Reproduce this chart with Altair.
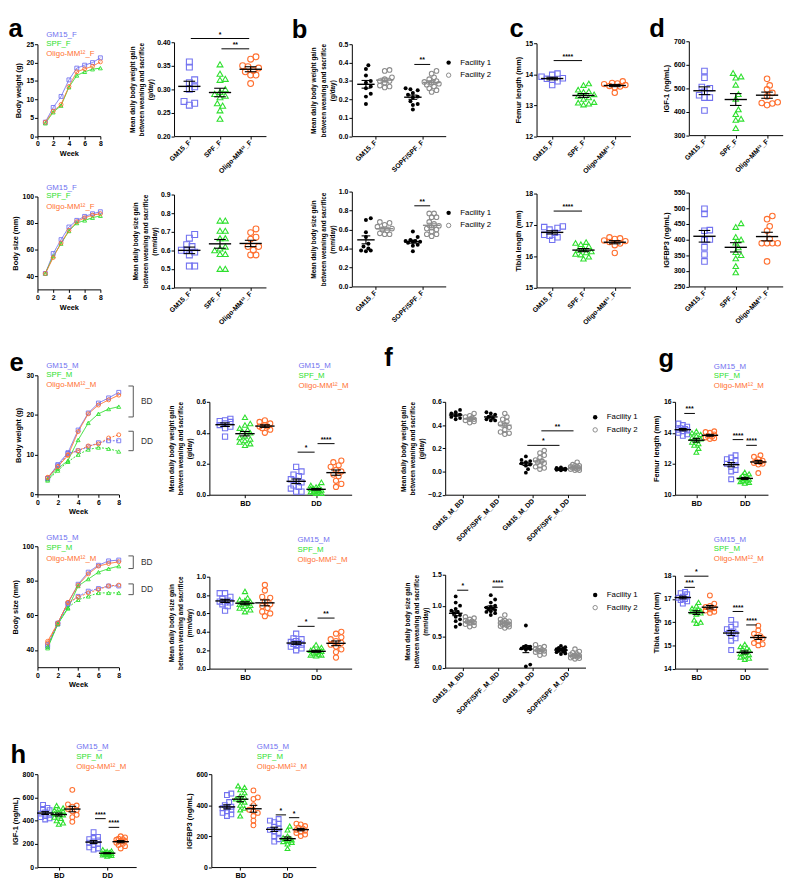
import math
import altair as alt
import pandas as pd

# ======================= DATA =======================
weeks = [1, 2, 3, 4, 5, 6, 7, 8]

# a: females, body weight / size curves
a_weight_GM15 = [3.8, 7.8, 10.8, 15.3, 18.5, 19.3, 20.0, 21.3]
a_weight_SPF = [3.5, 6.5, 8.3, 13.3, 16.5, 17.5, 18.2, 18.5]
a_weight_Oligo = [3.8, 6.8, 8.6, 13.5, 17.5, 18.3, 19.0, 20.2]
a_size_GM15 = [42, 57, 67.5, 77, 82, 85, 87, 88.5]
a_size_SPF = [42, 55, 64.5, 74, 80, 82, 84, 85.5]
a_size_Oligo = [42, 54, 65, 74.5, 81, 84, 86, 87]

# a: females, daily gains
a_wgain_GM15 = [0.358, 0.347, 0.320, 0.314, 0.305, 0.300, 0.274, 0.266, 0.270]
a_wgain_SPF = [0.353, 0.333, 0.322, 0.320, 0.294, 0.290, 0.286, 0.283, 0.270, 0.265, 0.255, 0.237, 0.300]
a_wgain_Oligo = [0.369, 0.364, 0.350, 0.348, 0.345, 0.340, 0.337, 0.330, 0.330, 0.312]
a_sgain_GM15 = [0.685, 0.665, 0.63, 0.62, 0.60, 0.60, 0.59, 0.575, 0.515, 0.515]
a_sgain_SPF = [0.76, 0.76, 0.705, 0.705, 0.665, 0.665, 0.62, 0.61, 0.60, 0.58, 0.58, 0.50, 0.50]
a_sgain_Oligo = [0.715, 0.695, 0.67, 0.66, 0.62, 0.62, 0.60, 0.575, 0.575]

# b: facilities
b_wgain_GM15_F1 = [0.385, 0.365, 0.33, 0.30, 0.29, 0.27, 0.26, 0.23, 0.215, 0.175]
b_wgain_GM15_F2 = [0.36, 0.355, 0.32, 0.31, 0.30, 0.30, 0.29, 0.275, 0.27, 0.265]
b_wgain_SPF_F1 = [0.26, 0.255, 0.25, 0.235, 0.225, 0.215, 0.21, 0.19, 0.175, 0.17, 0.145]
b_wgain_SPF_F2 = [0.355, 0.34, 0.32, 0.31, 0.30, 0.295, 0.29, 0.285, 0.28, 0.27, 0.26, 0.25, 0.24]
b_sgain_GM15_F1 = [0.72, 0.70, 0.57, 0.52, 0.45, 0.42, 0.40, 0.38, 0.38, 0.37]
b_sgain_GM15_F2 = [0.68, 0.67, 0.65, 0.63, 0.61, 0.60, 0.59, 0.56, 0.55, 0.55]
b_sgain_SPF_F1 = [0.58, 0.52, 0.49, 0.48, 0.48, 0.47, 0.47, 0.46, 0.44, 0.43, 0.37]
b_sgain_SPF_F2 = [0.77, 0.77, 0.73, 0.73, 0.68, 0.66, 0.64, 0.62, 0.61, 0.60, 0.58, 0.55, 0.55, 0.53]

# c: bone length (females)
c_femur_GM15 = [14.02, 13.98, 13.92, 13.87, 13.85, 13.82, 13.77, 13.65]
c_femur_SPF = [13.70, 13.65, 13.50, 13.45, 13.43, 13.35, 13.30, 13.25, 13.20, 13.10, 13.08, 13.05, 13.02]
c_femur_Oligo = [13.77, 13.72, 13.70, 13.68, 13.65, 13.62, 13.60, 13.57, 13.40]
c_tibia_GM15 = [16.95, 16.93, 16.90, 16.85, 16.75, 16.68, 16.65, 16.60, 16.52]
c_tibia_SPF = [16.45, 16.42, 16.38, 16.32, 16.25, 16.20, 16.15, 16.12, 16.07, 16.05, 15.98, 15.92]
c_tibia_Oligo = [16.60, 16.57, 16.55, 16.50, 16.48, 16.45, 16.40, 16.35, 16.10]

# d: IGF-1 / IGFBP3 (females)
d_igf_GM15 = [573, 545, 505, 500, 485, 470, 460, 460, 405]
d_igf_SPF = [565, 550, 545, 515, 475, 455, 410, 390, 370, 365, 330]
d_igf_Oligo = [540, 512, 495, 480, 465, 440, 437, 435, 428]
d_bp3_GM15 = [498, 482, 430, 428, 400, 398, 375, 352, 330]
d_bp3_SPF = [452, 440, 408, 400, 390, 375, 360, 350, 340, 315, 295]
d_bp3_Oligo = [475, 465, 442, 428, 402, 388, 388, 388, 388, 330]

# e: males, curves (BD solid, DD dotted)
e_weight_GM15_BD = [4.0, 7.5, 10.5, 16.2, 20.5, 23.0, 24.3, 25.7]
e_weight_SPF_BD = [3.8, 6.5, 8.5, 13.7, 18.0, 20.3, 21.5, 22.1]
e_weight_Oligo_BD = [4.3, 7.0, 9.8, 15.8, 20.3, 22.5, 23.8, 25.0]
e_weight_GM15_DD = [4.0, 7.2, 10.3, 11.0, 12.0, 13.0, 13.5, 13.5]
e_weight_SPF_DD = [3.5, 6.0, 8.2, 10.0, 11.3, 11.8, 11.5, 10.8]
e_weight_Oligo_DD = [4.2, 7.0, 10.0, 11.0, 12.2, 12.7, 14.2, 15.0]
e_size_GM15_BD = [42, 55.5, 67, 78, 85, 89, 91.5, 92]
e_size_SPF_BD = [41, 55, 64, 77, 81, 85, 87, 88.5]
e_size_Oligo_BD = [45, 55.5, 67.5, 77.5, 84, 88.5, 90, 91]
e_size_GM15_DD = [43, 55, 66.5, 71, 74, 75.5, 77, 77]
e_size_SPF_DD = [42, 55, 64.5, 69, 71, 73, 73, 73]
e_size_Oligo_DD = [44, 55.5, 67.5, 70.5, 73, 75, 77, 77.5]

# e: males, daily gains
e_wgain_BD_GM15 = [0.49, 0.48, 0.475, 0.47, 0.46, 0.45, 0.44, 0.43, 0.375]
e_wgain_BD_SPF = [0.50, 0.46, 0.45, 0.43, 0.42, 0.41, 0.40, 0.38, 0.37, 0.36, 0.35, 0.34, 0.33, 0.32]
e_wgain_BD_Oligo = [0.48, 0.47, 0.46, 0.45, 0.44, 0.44, 0.43, 0.42, 0.40]
e_wgain_DD_GM15 = [0.18, 0.15, 0.13, 0.12, 0.10, 0.09, 0.08, 0.06, 0.05, 0.04, 0.02, 0.02]
e_wgain_DD_SPF = [0.08, 0.06, 0.05, 0.05, 0.04, 0.04, 0.03, 0.03, 0.03, 0.02, 0.02, 0.02, 0.01, 0.01]
e_wgain_DD_Oligo = [0.22, 0.21, 0.19, 0.18, 0.16, 0.15, 0.13, 0.12, 0.09, 0.07, 0.05]
e_sgain_BD_GM15 = [0.82, 0.82, 0.78, 0.76, 0.74, 0.73, 0.72, 0.72, 0.70, 0.68, 0.63]
e_sgain_BD_SPF = [0.84, 0.77, 0.75, 0.74, 0.73, 0.72, 0.71, 0.70, 0.69, 0.68, 0.66, 0.64, 0.62]
e_sgain_BD_Oligo = [0.91, 0.85, 0.78, 0.77, 0.73, 0.70, 0.68, 0.66, 0.62, 0.60, 0.57]
e_sgain_DD_GM15 = [0.38, 0.33, 0.32, 0.30, 0.29, 0.28, 0.27, 0.26, 0.25, 0.24, 0.22, 0.20]
e_sgain_DD_SPF = [0.26, 0.23, 0.22, 0.21, 0.20, 0.19, 0.18, 0.17, 0.16, 0.15, 0.15, 0.14]
e_sgain_DD_Oligo = [0.40, 0.38, 0.34, 0.32, 0.30, 0.28, 0.26, 0.24, 0.21, 0.18, 0.12]

# f: males, facilities
f_wgain_GM15BD_F1 = [0.53, 0.51, 0.50, 0.49, 0.48, 0.47, 0.46, 0.45]
f_wgain_GM15BD_F2 = [0.50, 0.48, 0.47, 0.46, 0.45, 0.45, 0.44, 0.43, 0.42]
f_wgain_SPFBD_F1 = [0.51, 0.50, 0.49, 0.47, 0.46, 0.45, 0.44, 0.44]
f_wgain_SPFBD_F2 = [0.50, 0.47, 0.45, 0.43, 0.41, 0.40, 0.38, 0.36, 0.34, 0.33, 0.32]
f_wgain_GM15DD_F1 = [0.13, 0.10, 0.09, 0.08, 0.07, 0.06, 0.05, 0.02, -0.01]
f_wgain_GM15DD_F2 = [0.18, 0.16, 0.14, 0.12, 0.10, 0.09, 0.08, 0.07, 0.05, 0.04, 0.03, 0.02]
f_wgain_SPFDD_F1 = [0.035, 0.03, 0.025, 0.02, 0.02, 0.02, 0.015, 0.015, 0.01]
f_wgain_SPFDD_F2 = [0.08, 0.06, 0.05, 0.05, 0.04, 0.04, 0.03, 0.03, 0.03, 0.02, 0.02, 0.01, 0.01]
f_sgain_GM15BD_F1 = [1.15, 1.05, 1.00, 0.95, 0.92, 0.90, 0.88, 0.85, 0.82, 0.78, 0.75, 0.70, 0.66]
f_sgain_GM15BD_F2 = [0.82, 0.80, 0.78, 0.76, 0.75, 0.74, 0.73, 0.72, 0.70, 0.68, 0.66]
f_sgain_SPFBD_F1 = [1.17, 1.10, 1.05, 1.00, 0.98, 0.97, 0.95, 0.94, 0.93, 0.91, 0.90, 0.88, 0.85]
f_sgain_SPFBD_F2 = [0.85, 0.78, 0.76, 0.75, 0.74, 0.73, 0.72, 0.71, 0.70, 0.69, 0.68, 0.67, 0.66, 0.64]
f_sgain_GM15DD_F1 = [0.68, 0.35, 0.34, 0.33, 0.32, 0.31, 0.30, 0.29, 0.05, 0.02]
f_sgain_GM15DD_F2 = [0.37, 0.34, 0.32, 0.30, 0.29, 0.28, 0.27, 0.26, 0.25, 0.22, 0.20]
f_sgain_SPFDD_F1 = [0.35, 0.33, 0.32, 0.31, 0.30, 0.29, 0.28, 0.27, 0.26, 0.25, 0.23, 0.22]
f_sgain_SPFDD_F2 = [0.30, 0.26, 0.24, 0.22, 0.21, 0.20, 0.19, 0.18, 0.17, 0.16, 0.15, 0.14]

# g: males, bone length
g_femur_BD_GM15 = [14.6, 14.5, 14.4, 14.3, 14.25, 14.2, 14.15, 14.1, 14.0, 13.9, 13.8]
g_femur_BD_SPF = [14.1, 14.0, 13.9, 13.8, 13.7, 13.6, 13.5, 13.4, 13.3, 13.2, 13.0, 12.75]
g_femur_BD_Oligo = [14.1, 14.05, 14.0, 13.9, 13.8, 13.75, 13.7, 13.65, 13.6]
g_femur_DD_GM15 = [12.55, 12.4, 12.3, 12.2, 12.1, 12.0, 11.9, 11.8, 11.6, 11.5, 11.0]
g_femur_DD_SPF = [11.45, 11.35, 11.25, 11.2, 11.1, 11.05, 11.0, 10.95, 10.9, 10.85, 10.8, 10.75]
g_femur_DD_Oligo = [12.55, 12.45, 12.3, 12.2, 12.15, 12.1, 12.05, 12.0, 11.95, 11.4]
g_tibia_BD_GM15 = [17.3, 17.25, 17.2, 17.1, 17.05, 17.0, 16.95, 16.9, 16.8]
g_tibia_BD_SPF = [16.85, 16.7, 16.6, 16.55, 16.5, 16.5, 16.45, 16.4, 16.35, 16.1, 16.0, 15.95]
g_tibia_BD_Oligo = [17.15, 16.8, 16.7, 16.65, 16.6, 16.55, 16.5, 16.45, 16.4]
g_tibia_DD_GM15 = [16.1, 15.9, 15.8, 15.7, 15.6, 15.55, 15.5, 15.4, 15.3, 15.2, 14.8]
g_tibia_DD_SPF = [15.05, 14.95, 14.9, 14.85, 14.8, 14.7, 14.65, 14.6, 14.55, 14.5, 14.45, 14.4]
g_tibia_DD_Oligo = [15.85, 15.65, 15.5, 15.4, 15.35, 15.3, 15.2, 15.1, 15.05, 15.0]

# h: males, IGF-1 / IGFBP3
h_igf_BD_GM15 = [535, 510, 500, 490, 470, 460, 450, 440, 430, 420, 410]
h_igf_BD_SPF = [530, 510, 500, 490, 480, 470, 460, 450, 440, 430, 420, 400, 380, 370]
h_igf_BD_Oligo = [665, 540, 530, 520, 500, 490, 480, 450, 430, 390]
h_igf_DD_GM15 = [300, 260, 250, 240, 230, 220, 210, 200, 190, 170, 160, 150]
h_igf_DD_SPF = [150, 140, 135, 130, 125, 120, 118, 115, 110, 108, 105, 100, 95]
h_igf_DD_Oligo = [265, 255, 245, 240, 235, 225, 220, 210, 200, 190, 180, 160]
h_bp3_BD_GM15 = [475, 465, 420, 400, 390, 385, 380, 370, 360, 350, 340, 330]
h_bp3_BD_SPF = [525, 515, 500, 480, 460, 450, 440, 430, 420, 400, 380, 370, 330]
h_bp3_BD_Oligo = [495, 450, 440, 400, 370, 360, 350, 330, 300, 270]
h_bp3_DD_GM15 = [310, 300, 290, 280, 260, 250, 240, 230, 220, 200, 180, 165]
h_bp3_DD_SPF = [265, 240, 200, 190, 185, 180, 175, 170, 165, 160, 150, 120]
h_bp3_DD_Oligo = [280, 275, 265, 255, 250, 240, 235, 230, 220, 210, 200]

# significance annotations: (cat1, series1, cat2, series2, y, label)
a_wgain_sig = [(0, "GM15", 2, "Oligo", 0.408, "*"), (1, "SPF", 2, "Oligo", 0.386, "**")]
b_wgain_sig = [(1, "F1", 1, "F2", 0.39, "**")]
b_sgain_sig = [(1, "F1", 1, "F2", 0.85, "**")]
c_femur_sig = [(0, "GM15", 1, "SPF", 14.44, "****")]
c_tibia_sig = [(0, "GM15", 1, "SPF", 17.44, "****")]
e_wgain_sig = [(1, "GM15", 1, "SPF", 0.275, "*"), (1, "SPF", 1, "Oligo", 0.33, "****")]
e_sgain_sig = [(1, "GM15", 1, "SPF", 0.46, "*"), (1, "SPF", 1, "Oligo", 0.55, "**")]
f_wgain_sig = [(2, "F1", 3, "F1", 0.225, "*"), (2, "F2", 3, "F2", 0.35, "**")]
f_sgain_sig = [(0, "F1", 0, "F2", 1.25, "*"), (1, "F1", 1, "F2", 1.30, "****")]
g_femur_sig = [(0, "GM15", 0, "SPF", 15.25, "***"), (1, "GM15", 1, "SPF", 13.56, "****"),
               (1, "SPF", 1, "Oligo", 13.19, "****")]
g_tibia_sig = [(0, "GM15", 0, "Oligo", 17.98, "*"), (0, "GM15", 0, "SPF", 17.5, "***"),
               (1, "GM15", 1, "SPF", 16.46, "****"), (1, "SPF", 1, "Oligo", 15.88, "****")]
h_igf_sig = [(1, "GM15", 1, "SPF", 417, "****"), (1, "SPF", 1, "Oligo", 342, "****")]
h_bp3_sig = [(1, "GM15", 1, "SPF", 337, "*"), (1, "SPF", 1, "Oligo", 319, "*")]

# BD / DD brackets on the growth curves (y from, y to, label)
e_weight_brackets = [(27.3, 19.5, "BD"), (15.9, 11.0, "DD")]
e_size_brackets = [(94.4, 87.1, "BD"), (78.2, 72.0, "DD")]

# tick labels / legend texts
labels_F = ["GM15_F", "SPF_F", "Oligo-MM¹²_F"]
labels_fac_F = ["GM15_F", "SOPF/SPF_F"]
labels_fac_M = ["GM15_M_BD", "SOPF/SPF_M_BD", "GM15_M_DD", "SOPF/SPF_M_DD"]
labels_diet = ["BD", "DD"]
legend_F = ["GM15_F", "SPF_F", "Oligo-MM¹²_F"]
legend_M = ["GM15_M", "SPF_M", "Oligo-MM¹²_M"]
legend_fac = ["Facility 1", "Facility 2"]

# ======================= STYLE / LAYOUT =======================
FONT = "Liberation Sans"
S = 0.985
COL = {"GM15": "#7272F0", "SPF": "#2EDF2E", "Oligo": "#FF7030", "F1": "#000000", "F2": "#8C8C8C"}
SHP = {"GM15": "square", "SPF": "triangle-up", "Oligo": "circle", "F1": "circle", "F2": "circle"}
FILL = {"GM15": False, "SPF": False, "Oligo": False, "F1": True, "F2": False}
STAT = {"GM15": "black", "SPF": "black", "Oligo": "black", "F1": "black", "F2": "#8C8C8C"}
SERIES = ["GM15", "SPF", "Oligo", "F1", "F2"]
SH3 = {"GM15": 0.0, "SPF": 0.0, "Oligo": 0.0}
SHF = {"F1": -0.2, "F2": 0.2}
SHG = {"GM15": -0.28, "SPF": 0.0, "Oligo": 0.28}
ONE = pd.DataFrame({"k": [0]})
TRIO = ["GM15", "SPF", "Oligo"]


def cscale():
    return alt.Scale(domain=SERIES, range=[COL[s] for s in SERIES])


def sscale():
    return alt.Scale(domain=SERIES, range=[SHP[s] for s in SERIES])


class Box:
    def __init__(self, rect, cut):
        x0, y0, x1, y1 = rect
        X0, Y0, X1, Y1 = cut
        self.x0, self.y0 = x0, y0
        self.W = (x1 - x0) * S
        self.H = (y1 - y0) * S
        self.L = (x0 - X0) * S
        self.T = (y0 - Y0) * S
        self.R = (X1 - x1) * S
        self.B = (Y1 - y1) * S

    def px(self, ax, ay):
        return (ax - self.x0) * S, (ay - self.y0) * S


def swarm(vals, ypx, xpx, d, maxw):
    """deterministic beeswarm offsets (in x units), spread limited to +-maxw px"""
    order = sorted(range(len(vals)), key=lambda i: vals[i])
    cands = [0.0]
    j = 1
    while j * d * 0.5 <= maxw + 1e-9:
        cands += [j * d * 0.5, -j * d * 0.5]
        j += 1
    placed, out = [], [0.0] * len(vals)
    for i in order:
        y = vals[i] * ypx
        chosen, best, bestd = None, 0.0, -1.0
        for c in cands:
            md = min([math.hypot(c - px, y - py) for px, py in placed] or [1e9])
            if md >= 0.9 * d:
                chosen = c
                break
            if md > bestd:
                best, bestd = c, md
        if chosen is None:
            chosen = best
        placed.append((chosen, y))
        out[i] = chosen / xpx
    return out


def anchors(b):
    return [
        alt.Chart(ONE).mark_rule(color="white", strokeWidth=1).encode(
            x=alt.value(-b.L + 0.5), x2=alt.value(-b.L + 1.5), y=alt.value(-b.T + 0.5)),
        alt.Chart(ONE).mark_rule(color="white", strokeWidth=1).encode(
            x=alt.value(b.W + b.R - 1.5), x2=alt.value(b.W + b.R - 0.5), y=alt.value(b.H + b.B - 0.5)),
    ]


def spacer():
    return alt.Chart(ONE).mark_rule(color="white", strokeWidth=1).encode(
        x=alt.value(0), x2=alt.value(1), y=alt.value(0.5)).properties(width=1, height=1)


def column(*charts):
    return alt.vconcat(spacer(), *charts, spacing=0)


def decor_layers(b, items):
    out = []
    for it in items:
        if it[0] == "t":
            _, s, ax, ay, color, size, weight, baseline = it
            dx, dy = b.px(ax, ay)
            out.append(alt.Chart(ONE).mark_text(text=s, color=color, fontSize=size, fontWeight=weight,
                                                align="left", baseline=baseline, font=FONT).encode(
                x=alt.value(dx), y=alt.value(dy)))
        else:
            _, ax, ay, filled, color = it
            dx, dy = b.px(ax, ay)
            out.append(alt.Chart(ONE).mark_point(shape="circle", filled=filled, color=color, size=20,
                                                 strokeWidth=1, opacity=1).encode(
                x=alt.value(dx), y=alt.value(dy)))
    return out


def letter(s, ax, ay):
    return ("t", s, ax, ay, "black", 26, "bold", "alphabetic")


def trio_legend(names, ax, ys):
    return [("t", n, ax, y, COL[k], 8, "normal", "middle") for n, k, y in zip(names, TRIO, ys)]


def fac_legend(ax, ys):
    return [("d", ax - 12, ys[0], True, "black"), ("d", ax - 12, ys[1], False, "#8C8C8C"),
            ("t", legend_fac[0], ax, ys[0], "black", 8, "normal", "middle"),
            ("t", legend_fac[1], ax, ys[1], "black", 8, "normal", "middle")]


def scatter_panel(rect, cut, xdom, ylim, yticks, yfmt, ytitle, labels, shifts, groups, sigs,
                  mean_w, cap_w, msize, dpx=5.5, spread=10, angle=-45, tsize=6.5, decor=()):
    b = Box(rect, cut)
    xpx = b.W / (xdom[1] - xdom[0])
    ypx = b.H / (ylim[1] - ylim[0])
    rows, st = [], []
    for cat, ser, vals in groups:
        c = cat + shifts[ser]
        offs = swarm(vals, ypx, xpx, dpx * S, spread * S)
        for v, o in zip(vals, offs):
            rows.append({"x": c + o, "v": v, "series": ser, "filled": FILL[ser]})
        n = len(vals)
        m = sum(vals) / n
        se = math.sqrt(sum((v - m) ** 2 for v in vals) / (n - 1)) / math.sqrt(n)
        hw = mean_w * S / 2 / xpx
        hc = cap_w * S / 2 / xpx
        st.append(dict(x=c, m=m, lo=m - se, hi=m + se, xl=c - hw, xr=c + hw, cl=c - hc, cr=c + hc,
                       col=STAT[ser]))
    pts = pd.DataFrame(rows)
    stats = pd.DataFrame(st)
    xs = alt.Scale(domain=list(xdom), nice=False, zero=False)
    ys = alt.Scale(domain=list(ylim), nice=False, zero=False)
    expr = "[" + ",".join("'%s'" % l for l in labels) + "][round(datum.value)]"
    if angle:
        xaxis = alt.Axis(values=list(range(len(labels))), labelExpr=expr, title=None, labelAngle=angle,
                         labelAlign="right", labelBaseline="middle", labelPadding=2)
    else:
        xaxis = alt.Axis(values=list(range(len(labels))), labelExpr=expr, title=None, labelAngle=0,
                         labelAlign="center", labelBaseline="top", labelFontSize=7.5, labelPadding=2)
    yaxis = alt.Axis(values=yticks, format=yfmt, title=ytitle, titleFontSize=tsize, titleLineHeight=9.5)

    def X(f):
        return alt.X(f, type="quantitative", scale=xs, axis=xaxis)

    def Y(f):
        return alt.Y(f, type="quantitative", scale=ys, axis=yaxis)

    layers = []
    for filled in (False, True):
        sub = pts[pts.filled == filled].drop(columns="filled")
        if len(sub) == 0:
            continue
        layers.append(alt.Chart(sub).mark_point(filled=filled, size=msize * (0.75 if filled else 1),
                                                strokeWidth=1.1, opacity=1).encode(
            x=X("x"), y=Y("v"),
            color=alt.Color("series:N", scale=cscale(), legend=None),
            shape=alt.Shape("series:N", scale=sscale(), legend=None)))
    for col in stats.col.unique():
        sd = stats[stats.col == col]
        base = alt.Chart(sd)
        layers.append(base.mark_rule(color=col, strokeWidth=1.1).encode(x=X("x"), y=Y("lo"), y2="hi:Q"))
        layers.append(base.mark_rule(color=col, strokeWidth=1.4).encode(x=X("xl"), x2="xr:Q", y=Y("m")))
        for f in ("lo", "hi"):
            layers.append(base.mark_rule(color=col, strokeWidth=1.1).encode(x=X("cl"), x2="cr:Q", y=Y(f)))
    if sigs:
        gap = 1.5 * S / xpx
        sg = pd.DataFrame([dict(x1=c1 + shifts[s1] + gap, x2=c2 + shifts[s2] - gap, y=y,
                                xm=(c1 + shifts[s1] + c2 + shifts[s2]) / 2, t=t)
                           for c1, s1, c2, s2, y, t in sigs])
        layers.append(alt.Chart(sg).mark_rule(color="black", strokeWidth=1).encode(
            x=X("x1"), x2="x2:Q", y=Y("y")))
        layers.append(alt.Chart(sg).mark_text(fontSize=7, fontWeight="bold", baseline="bottom", dy=-1,
                                              font=FONT).encode(x=X("xm"), y=Y("y"), text="t:N"))
    layers += decor_layers(b, decor)
    layers += anchors(b)
    return alt.layer(*layers).properties(width=b.W, height=b.H)


def line_panel(rect, cut, ylim, yticks, ytitle, series, decor=(), brackets=()):
    b = Box(rect, cut)
    rows = []
    for ser, cond, vals in series:
        for w, v in zip(weeks, vals):
            rows.append(dict(week=w, v=v, series=ser, cond=cond, key=ser + cond))
    df = pd.DataFrame(rows)
    xs = alt.Scale(domain=[0, 8], nice=False, zero=False)
    ys = alt.Scale(domain=list(ylim), nice=False, zero=False)
    xaxis = alt.Axis(values=[0, 2, 4, 6, 8], format="d", title="Week")
    yaxis = alt.Axis(values=yticks, format="d", title=ytitle)

    def X(f):
        return alt.X(f, type="quantitative", scale=xs, axis=xaxis)

    def Y(f):
        return alt.Y(f, type="quantitative", scale=ys, axis=yaxis)

    color = alt.Color("series:N", scale=cscale(), legend=None)
    lines = alt.Chart(df).mark_line(strokeWidth=1).encode(
        x=X("week"), y=Y("v"), color=color,
        strokeDash=alt.StrokeDash("cond:N", scale=alt.Scale(domain=["BD", "DD"], range=[[1, 0], [2, 1.5]]),
                                  legend=None),
        detail="key:N")
    pts = alt.Chart(df).mark_point(filled=False, size=16, strokeWidth=0.9, opacity=1).encode(
        x=X("week"), y=Y("v"), color=color, shape=alt.Shape("series:N", scale=sscale(), legend=None))
    layers = [lines, pts]
    if brackets:
        bd = pd.DataFrame([dict(t=t, y1=y1, y2=y2, ym=(y1 + y2) / 2) for y1, y2, t in brackets])
        xr, xt, xx = b.W + 15 * S, b.W + 10 * S, b.W + 23 * S
        layers.append(alt.Chart(bd).mark_rule(color="#555555", strokeWidth=1).encode(
            x=alt.value(xr), y=Y("y1"), y2="y2:Q"))
        for f in ("y1", "y2"):
            layers.append(alt.Chart(bd).mark_rule(color="#555555", strokeWidth=1).encode(
                x=alt.value(xt), x2=alt.value(xr), y=Y(f)))
        layers.append(alt.Chart(bd).mark_text(fontSize=8.5, align="left", baseline="middle", font=FONT,
                                              color="#333333").encode(x=alt.value(xx), y=Y("ym"), text="t:N"))
    layers += decor_layers(b, decor)
    layers += anchors(b)
    return alt.layer(*layers).properties(width=b.W, height=b.H)


WG = ["Mean daily body weight gain", "between weaning and sacrifice", "(g/day)"]
SG = ["Mean daily body size gain", "between weaning and sacrifice", "(mm/day)"]
CUT1 = 175  # split between the two rows of block 1 for the rotated-label columns

# ---------------- block 1 (a-d) ----------------
a_line_top = line_panel((30, 28, 95, 123), (0, 0, 110, 168), (0, 25), [0, 5, 10, 15, 20, 25], "Body weight (g)",
                        [("GM15", "BD", a_weight_GM15), ("SPF", "BD", a_weight_SPF), ("Oligo", "BD", a_weight_Oligo)],
                        decor=[letter("a", 0, 21)] + trio_legend(legend_F, 39, [18, 28, 38]))
a_line_bot = line_panel((30, 185, 95, 281), (0, 168, 110, 332), (30, 100), [40, 60, 80, 100], "Body size (mm)",
                        [("GM15", "BD", a_size_GM15), ("SPF", "BD", a_size_SPF), ("Oligo", "BD", a_size_Oligo)],
                        decor=trio_legend(legend_F, 39, [176, 185, 196]))
a_sc_top = scatter_panel((170, 26, 265, 123), (110, 0, 268, CUT1), (-0.5, 2.5), (0.2, 0.4),
                         [0.2, 0.25, 0.3, 0.35, 0.4], ".2f", WG, labels_F, SH3,
                         [(0, "GM15", a_wgain_GM15), (1, "SPF", a_wgain_SPF), (2, "Oligo", a_wgain_Oligo)],
                         a_wgain_sig, 23, 12, 36, spread=12)
a_sc_bot = scatter_panel((170, 183, 265, 279), (110, CUT1, 268, 332), (-0.5, 2.5), (0.4, 0.9),
                         [0.4, 0.5, 0.6, 0.7, 0.8, 0.9], ".1f", SG, labels_F, SH3,
                         [(0, "GM15", a_sgain_GM15), (1, "SPF", a_sgain_SPF), (2, "Oligo", a_sgain_Oligo)],
                         [], 23, 12, 36, spread=12)
b_top = scatter_panel((353, 28, 450, 123), (268, 0, 510, CUT1), (-0.5, 1.5), (0, 0.5),
                      [0, 0.1, 0.2, 0.3, 0.4, 0.5], ".1f", WG, labels_fac_F, SHF,
                      [(0, "F1", b_wgain_GM15_F1), (0, "F2", b_wgain_GM15_F2),
                       (1, "F1", b_wgain_SPF_F1), (1, "F2", b_wgain_SPF_F2)],
                      b_wgain_sig, 18, 9, 22, dpx=5, spread=8,
                      decor=[letter("b", 291, 22)] + fac_legend(465, [47, 60]))
b_bot = scatter_panel((353, 180, 450, 278), (268, CUT1, 510, 332), (-0.5, 1.5), (0, 1.0),
                      [0, 0.2, 0.4, 0.6, 0.8, 1.0], ".1f", SG, labels_fac_F, SHF,
                      [(0, "F1", b_sgain_GM15_F1), (0, "F2", b_sgain_GM15_F2),
                       (1, "F1", b_sgain_SPF_F1), (1, "F2", b_sgain_SPF_F2)],
                      b_sgain_sig, 18, 9, 22, dpx=5, spread=8, decor=fac_legend(465, [202, 215]))
c_top = scatter_panel((543, 26, 640, 122), (510, 0, 652, CUT1), (-0.5, 2.5), (12, 15), [12, 13, 14, 15], "d",
                      "Femur length (mm)", labels_F, SH3,
                      [(0, "GM15", c_femur_GM15), (1, "SPF", c_femur_SPF), (2, "Oligo", c_femur_Oligo)],
                      c_femur_sig, 23, 12, 30, spread=12, tsize=7.5, decor=[letter("c", 515, 20)])
c_bot = scatter_panel((543, 181, 640, 278), (510, CUT1, 652, 332), (-0.5, 2.5), (15, 18), [15, 16, 17, 18], "d",
                      "Tibia length (mm)", labels_F, SH3,
                      [(0, "GM15", c_tibia_GM15), (1, "SPF", c_tibia_SPF), (2, "Oligo", c_tibia_Oligo)],
                      c_tibia_sig, 23, 12, 30, spread=12, tsize=7.5)
d_top = scatter_panel((699, 25, 796, 122), (652, 0, 799, CUT1), (-0.5, 2.5), (300, 700),
                      [300, 400, 500, 600, 700], "d", "IGF-1 (ng/mL)", labels_F, SH3,
                      [(0, "GM15", d_igf_GM15), (1, "SPF", d_igf_SPF), (2, "Oligo", d_igf_Oligo)],
                      [], 23, 12, 32, spread=12, tsize=7.5, decor=[letter("d", 658, 21)])
d_bot = scatter_panel((699, 181, 796, 278), (652, CUT1, 799, 332), (-0.5, 2.5), (250, 550),
                      [250, 300, 350, 400, 450, 500, 550], "d", "IGFBP3 (ng/mL)", labels_F, SH3,
                      [(0, "GM15", d_bp3_GM15), (1, "SPF", d_bp3_SPF), (2, "Oligo", d_bp3_Oligo)],
                      [], 23, 12, 32, spread=12, tsize=7.5)

block1 = alt.hconcat(column(a_line_top, a_line_bot), column(a_sc_top, a_sc_bot), column(b_top, b_bot),
                     column(c_top, c_bot), column(d_top, d_bot), spacing=0)

# ---------------- block 2 (e-g) ----------------
e_line_top = line_panel((29, 367, 113, 490), (0, 332, 155, 520), (0, 30), [0, 10, 20, 30], "Body weight (g)",
                        [("GM15", "BD", e_weight_GM15_BD), ("SPF", "BD", e_weight_SPF_BD),
                         ("Oligo", "BD", e_weight_Oligo_BD), ("GM15", "DD", e_weight_GM15_DD),
                         ("SPF", "DD", e_weight_SPF_DD), ("Oligo", "DD", e_weight_Oligo_DD)],
                        decor=[letter("e", 0, 363)] + trio_legend(legend_M, 38, [357, 367, 377]),
                        brackets=e_weight_brackets)
e_line_bot = line_panel((29, 543, 113, 668), (0, 520, 155, 728), (30, 100), [40, 60, 80, 100], "Body size (mm)",
                        [("GM15", "BD", e_size_GM15_BD), ("SPF", "BD", e_size_SPF_BD),
                         ("Oligo", "BD", e_size_Oligo_BD), ("GM15", "DD", e_size_GM15_DD),
                         ("SPF", "DD", e_size_SPF_DD), ("Oligo", "DD", e_size_Oligo_DD)],
                        decor=trio_legend(legend_M, 38, [535, 545, 556]), brackets=e_size_brackets)
e_sc_top = scatter_panel((205, 394, 352, 490), (155, 332, 370, 520), (-0.5, 1.5), (0, 0.6),
                         [0, 0.2, 0.4, 0.6], ".1f", WG, labels_diet, SHG,
                         [(0, "GM15", e_wgain_BD_GM15), (0, "SPF", e_wgain_BD_SPF), (0, "Oligo", e_wgain_BD_Oligo),
                          (1, "GM15", e_wgain_DD_GM15), (1, "SPF", e_wgain_DD_SPF), (1, "Oligo", e_wgain_DD_Oligo)],
                         e_wgain_sig, 20, 10, 28, spread=8, angle=0,
                         decor=trio_legend(legend_M, 297, [357, 367, 378]))
e_sc_bot = scatter_panel((205, 573, 352, 668), (155, 520, 370, 728), (-0.5, 1.5), (0, 1.0),
                         [0, 0.2, 0.4, 0.6, 0.8, 1.0], ".1f", SG, labels_diet, SHG,
                         [(0, "GM15", e_sgain_BD_GM15), (0, "SPF", e_sgain_BD_SPF), (0, "Oligo", e_sgain_BD_Oligo),
                          (1, "GM15", e_sgain_DD_GM15), (1, "SPF", e_sgain_DD_SPF), (1, "Oligo", e_sgain_DD_Oligo)],
                         e_sgain_sig, 20, 10, 28, spread=8, angle=0,
                         decor=trio_legend(legend_M, 296, [535, 545, 556]))
f_top = scatter_panel((448, 394, 593, 490), (370, 332, 658, 552), (-0.5, 3.5), (-0.2, 0.6),
                      [-0.2, 0, 0.2, 0.4, 0.6], ".1f", WG, labels_fac_M, SHF,
                      [(0, "F1", f_wgain_GM15BD_F1), (0, "F2", f_wgain_GM15BD_F2),
                       (1, "F1", f_wgain_SPFBD_F1), (1, "F2", f_wgain_SPFBD_F2),
                       (2, "F1", f_wgain_GM15DD_F1), (2, "F2", f_wgain_GM15DD_F2),
                       (3, "F1", f_wgain_SPFDD_F1), (3, "F2", f_wgain_SPFDD_F2)],
                      f_wgain_sig, 14, 7, 20, dpx=4.5, spread=5,
                      decor=[letter("f", 385, 357)] + fac_legend(615, [410, 423]))
f_bot = scatter_panel((448, 572, 593, 668), (370, 552, 658, 728), (-0.5, 3.5), (0, 1.5),
                      [0, 0.5, 1.0, 1.5], ".1f", SG, labels_fac_M, SHF,
                      [(0, "F1", f_sgain_GM15BD_F1), (0, "F2", f_sgain_GM15BD_F2),
                       (1, "F1", f_sgain_SPFBD_F1), (1, "F2", f_sgain_SPFBD_F2),
                       (2, "F1", f_sgain_GM15DD_F1), (2, "F2", f_sgain_GM15DD_F2),
                       (3, "F1", f_sgain_SPFDD_F1), (3, "F2", f_sgain_SPFDD_F2)],
                      f_sgain_sig, 14, 7, 20, dpx=4.5, spread=5, decor=fac_legend(615, [593, 606]))
g_top = scatter_panel((685, 394, 781, 490), (658, 332, 799, 520), (-0.44, 1.48), (10, 16), [10, 12, 14, 16], "d",
                      "Femur length (mm)", labels_diet, SHG,
                      [(0, "GM15", g_femur_BD_GM15), (0, "SPF", g_femur_BD_SPF), (0, "Oligo", g_femur_BD_Oligo),
                       (1, "GM15", g_femur_DD_GM15), (1, "SPF", g_femur_DD_SPF), (1, "Oligo", g_femur_DD_Oligo)],
                      g_femur_sig, 17, 8, 24, dpx=4.5, spread=6, angle=0, tsize=7.5,
                      decor=[letter("g", 668, 358)] + trio_legend(legend_M, 725, [358, 367, 378]))
g_bot = scatter_panel((685, 572, 781, 668), (658, 520, 799, 728), (-0.44, 1.48), (14, 18), [14, 15, 16, 17, 18], "d",
                      "Tibia length (mm)", labels_diet, SHG,
                      [(0, "GM15", g_tibia_BD_GM15), (0, "SPF", g_tibia_BD_SPF), (0, "Oligo", g_tibia_BD_Oligo),
                       (1, "GM15", g_tibia_DD_GM15), (1, "SPF", g_tibia_DD_SPF), (1, "Oligo", g_tibia_DD_Oligo)],
                      g_tibia_sig, 17, 8, 24, dpx=4.5, spread=6, angle=0, tsize=7.5,
                      decor=trio_legend(legend_M, 725, [535, 544, 555]))

block2 = alt.hconcat(column(e_line_top, e_line_bot), column(e_sc_top, e_sc_bot), column(f_top, f_bot),
                     column(g_top, g_bot), spacing=0)

# ---------------- block 3 (h) ----------------
h1 = scatter_panel((28, 775, 130, 871), (0, 728, 180, 881), (-0.44, 1.6), (0, 800), [0, 200, 400, 600, 800], "d",
                   "IGF-1 (ng/mL)", labels_diet, SHG,
                   [(0, "GM15", h_igf_BD_GM15), (0, "SPF", h_igf_BD_SPF), (0, "Oligo", h_igf_BD_Oligo),
                    (1, "GM15", h_igf_DD_GM15), (1, "SPF", h_igf_DD_SPF), (1, "Oligo", h_igf_DD_Oligo)],
                   h_igf_sig, 17, 8, 24, dpx=4.5, spread=6, angle=0, tsize=7.5,
                   decor=[letter("h", 0, 763)] + trio_legend(legend_M, 68, [747, 757, 768]))
h2 = scatter_panel((201, 775, 309, 871), (180, 728, 799, 881), (-0.61, 1.6), (0, 600), [0, 200, 400, 600], "d",
                   "IGFBP3 (ng/mL)", labels_diet, SHG,
                   [(0, "GM15", h_bp3_BD_GM15), (0, "SPF", h_bp3_BD_SPF), (0, "Oligo", h_bp3_BD_Oligo),
                    (1, "GM15", h_bp3_DD_GM15), (1, "SPF", h_bp3_DD_SPF), (1, "Oligo", h_bp3_DD_Oligo)],
                   h_bp3_sig, 17, 8, 24, dpx=4.5, spread=6, angle=0, tsize=7.5,
                   decor=trio_legend(legend_M, 248, [747, 757, 768]))

block3 = alt.hconcat(column(h1), column(h2), spacing=0)

chart = alt.vconcat(block1, block2, block3, spacing=0).properties(padding=0).configure_axis(
    labelFont=FONT, titleFont=FONT, labelFontSize=7, labelFontWeight="bold", titleFontSize=7.5,
    titleFontWeight="bold", labelColor="black", titleColor="black", domainColor="black", tickColor="black",
    tickSize=3, domainWidth=1, tickWidth=1, labelPadding=1, titlePadding=3, grid=False,
    labelFlush=False, labelOverlap=False, labelBound=False
).configure_view(stroke=None).configure_concat(spacing=0)

chart.save("out.html", embed_options={"renderer": "svg", "actions": False})
